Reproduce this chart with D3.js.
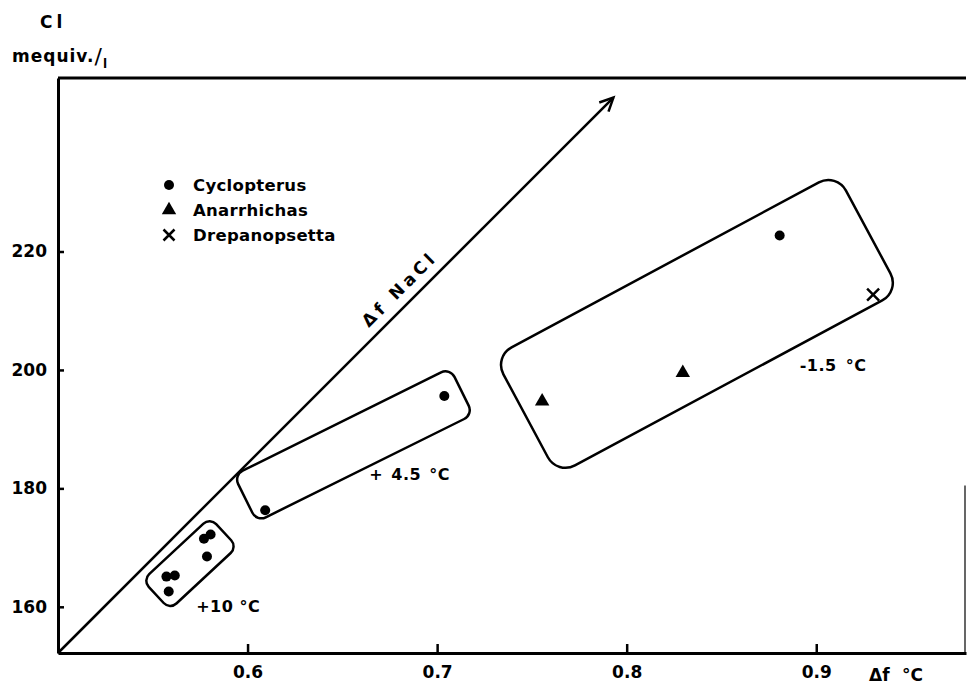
<!DOCTYPE html>
<html>
<head>
<meta charset="utf-8">
<script src="https://cdn.jsdelivr.net/npm/d3@7"></script>
<style>
  html, body { margin: 0; padding: 0; background: #fff; }
  svg { display: block; }
  text { font-family: "DejaVu Sans", sans-serif; font-weight: bold; fill: #000; }
</style>
</head>
<body>
<script>
// Freezing-point depression (Δf, °C) against chloride (mequiv./l)
const xTicks = [0.6, 0.7, 0.8, 0.9];
const yTicks = [160, 180, 200, 220];

const cyclopterusX = [0.5572, 0.5616, 0.5584, 0.5770, 0.5805, 0.5786, 0.6093, 0.7038, 0.8807];
const cyclopterusY = [165.1, 165.3, 162.6, 171.5, 172.2, 168.5, 176.3, 195.6, 222.7];
const anarrhichasX = [0.7554, 0.8296];
const anarrhichasY = [194.7, 199.5];
const drepanopsettaX = [0.930];
const drepanopsettaY = [212.7];

const speciesNames = ["Cyclopterus", "Anarrhichas", "Drepanopsetta"];

// temperature groups: each enclosed along an axis from start to end point
const groupNames = ["+10 °C", "+ 4.5 °C", "-1.5 °C"];
const groupStartX = [0.5518, 0.5988, 0.7467];
const groupStartY = [162.0, 178.3, 192.25];
const groupEndX = [0.5874, 0.7129, 0.9274];
const groupEndY = [172.6, 196.4, 223.3];

// NaCl reference line (from origin of the plot upward)
const naclX = [0.5, 0.793];
const naclY = [152.2, 246.0];

// layout
const W = 967, H = 690;
const boxWidth = [40, 52, 134];
const boxRadius = [9, 10, 20];
const labelOffset = [[40, 17], [124, -18], [274, -45]];
const labelWordSpacing = [0, 2, 3];

const svg = d3.select("body").append("svg").attr("width", W).attr("height", H);

const x = d3.scaleLinear().domain([0.5, 0.979]).range([58, 966]);
const y = d3.scaleLinear().domain([152.2, 249.3]).range([653, 78]);

// axes
const xAxis = svg.append("g").attr("transform", `translate(0,${y(152.2)})`)
  .call(d3.axisBottom(x).tickValues(xTicks).tickFormat(d3.format(".1f"))
        .tickSizeInner(-9).tickSizeOuter(0).tickPadding(13));
const yAxis = svg.append("g").attr("transform", `translate(${x(0.5)},0)`)
  .call(d3.axisLeft(y).tickValues(yTicks).tickFormat(d3.format("d"))
        .tickSizeInner(-6).tickSizeOuter(0).tickPadding(11));
[xAxis, yAxis].forEach(g => {
  g.select(".domain").attr("stroke", "#000").attr("stroke-width", 3);
  g.selectAll(".tick line").attr("stroke", "#000").attr("stroke-width", 2.5);
  g.selectAll(".tick text").attr("font-family", "DejaVu Sans").attr("font-weight", "bold")
    .attr("font-size", 17).attr("fill", "#000");
});

// frame: top edge and partial right edge
svg.append("line").attr("x1", x(0.5)).attr("x2", x(0.979)).attr("y1", y(249.3)).attr("y2", y(249.3))
  .attr("stroke", "#000").attr("stroke-width", 3);
svg.append("line").attr("x1", x(0.979) - 1).attr("x2", x(0.979) - 1).attr("y1", y(180.5)).attr("y2", y(152.2))
  .attr("stroke", "#000").attr("stroke-width", 1.2);

// axis titles
svg.append("text").attr("x", 40).attr("y", 28).attr("font-size", 17).attr("letter-spacing", 4).text("Cl");
const yt = svg.append("text").attr("x", 12).attr("y", 62).attr("font-size", 17).attr("letter-spacing", 1);
yt.append("tspan").text("mequiv.");
yt.append("tspan").attr("font-size", 22).attr("font-weight", "normal").attr("dy", 2).text("/");
yt.append("tspan").attr("font-size", 12).attr("dy", 4).text("l");
svg.append("text").attr("x", 869).attr("y", 681).attr("font-size", 17).text("Δf");
svg.append("text").attr("x", 902).attr("y", 681).attr("font-size", 17).text("°C");

// NaCl arrow
const ax1 = x(naclX[0]), ay1 = y(naclY[0]), ax2 = x(naclX[1]), ay2 = y(naclY[1]);
const ang = Math.atan2(ay2 - ay1, ax2 - ax1);
svg.append("line").attr("x1", ax1).attr("y1", ay1).attr("x2", ax2).attr("y2", ay2)
  .attr("stroke", "#000").attr("stroke-width", 2.5);
const head = 15, spread = 0.45;
svg.append("path")
  .attr("d", `M${ax2 - head * Math.cos(ang - spread)},${ay2 - head * Math.sin(ang - spread)}
              L${ax2},${ay2}
              L${ax2 - head * Math.cos(ang + spread)},${ay2 - head * Math.sin(ang + spread)}`)
  .attr("fill", "none").attr("stroke", "#000").attr("stroke-width", 2.5).attr("stroke-linejoin", "miter");
{
  const t = 0.635;
  const px = ax1 + t * (ax2 - ax1), py = ay1 + t * (ay2 - ay1);
  const off = 10;
  svg.append("text")
    .attr("transform", `translate(${px + off * Math.sin(ang)},${py - off * Math.cos(ang)})rotate(${ang * 180 / Math.PI})`)
    .attr("text-anchor", "middle").attr("font-size", 17).attr("letter-spacing", 4)
    .text("Δf NaCl");
}

// group boxes
groupNames.forEach((name, i) => {
  const sx = x(groupStartX[i]), sy = y(groupStartY[i]);
  const ex = x(groupEndX[i]), ey = y(groupEndY[i]);
  const L = Math.hypot(ex - sx, ey - sy);
  const a = Math.atan2(ey - sy, ex - sx) * 180 / Math.PI;
  const w = boxWidth[i];
  svg.append("rect")
    .attr("x", -L / 2).attr("y", -w / 2).attr("width", L).attr("height", w)
    .attr("rx", boxRadius[i]).attr("ry", boxRadius[i])
    .attr("transform", `translate(${(sx + ex) / 2},${(sy + ey) / 2})rotate(${a})`)
    .attr("fill", "none").attr("stroke", "#000").attr("stroke-width", 2.5);
  svg.append("text").attr("x", sx + labelOffset[i][0]).attr("y", sy + labelOffset[i][1])
    .attr("font-size", 16).attr("letter-spacing", 0.5).attr("word-spacing", labelWordSpacing[i]).text(name);
});

// markers
const dot = (g, cx, cy) => g.append("circle").attr("cx", cx).attr("cy", cy).attr("r", 5).attr("fill", "#000");
const tri = (g, cx, cy) => g.append("path").attr("d", d3.symbol(d3.symbolTriangle, 90)()).attr("transform", `translate(${cx},${cy})`).attr("fill", "#000");
const cross = (g, cx, cy, s = 6) => g.append("path")
  .attr("d", `M${cx - s},${cy - s}L${cx + s},${cy + s}M${cx + s},${cy - s}L${cx - s},${cy + s}`)
  .attr("stroke", "#000").attr("stroke-width", 2.5).attr("fill", "none");

const marks = svg.append("g");
cyclopterusX.forEach((v, i) => dot(marks, x(v), y(cyclopterusY[i])));
anarrhichasX.forEach((v, i) => tri(marks, x(v), y(anarrhichasY[i])));
drepanopsettaX.forEach((v, i) => cross(marks, x(v), y(drepanopsettaY[i])));

// legend
const legend = svg.append("g").attr("transform", "translate(169,185)");
const drawers = [dot, tri, (g, cx, cy) => cross(g, cx, cy, 5.5)];
speciesNames.forEach((n, i) => {
  const row = legend.append("g").attr("transform", `translate(0,${i * 25})`);
  drawers[i](row, 0, 0);
  row.append("text").attr("x", 24).attr("y", 6).attr("font-size", 16.5).attr("letter-spacing", 0.3).text(n);
});
</script>
</body>
</html>
